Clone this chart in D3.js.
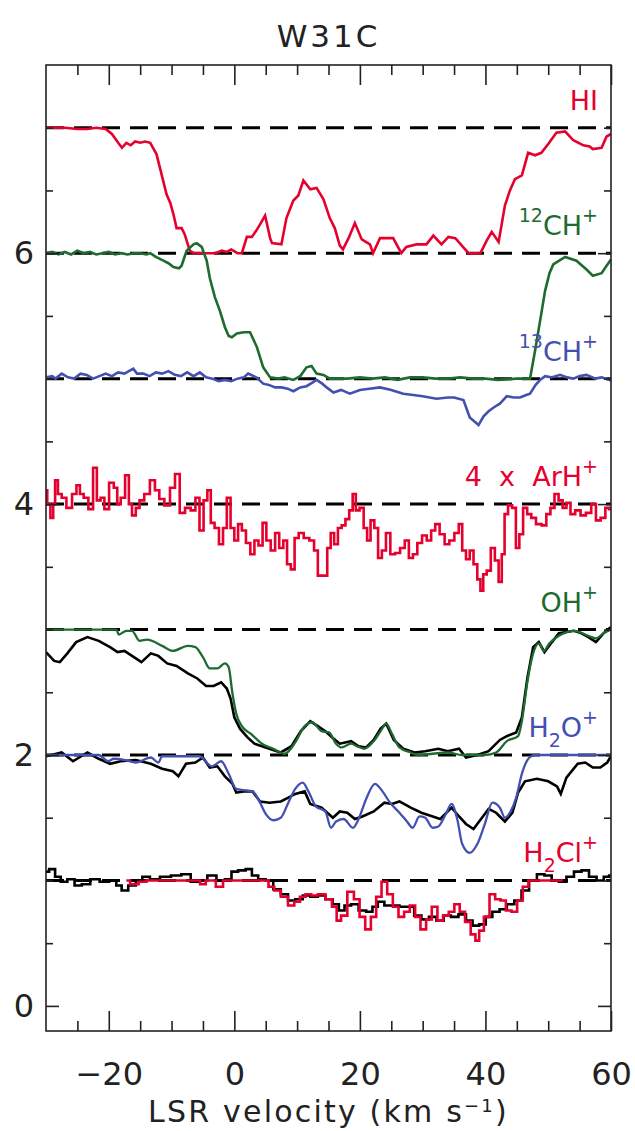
<!DOCTYPE html>
<html><head><meta charset="utf-8">
<script src="https://cdn.jsdelivr.net/npm/d3@7/dist/d3.min.js"></script>
<style>
body{margin:0;background:#fff;}
svg text{font-family:"DejaVu Sans",sans-serif;}
</style></head>
<body>
<svg id="chart" width="635" height="1131"></svg>
<script>
// ---------- data (velocity km/s, offset intensity) ----------
const title = "W31C";
const xMajorTicks = [-20, 0, 20, 40, 60];
const xMinorTicks = [-25, -15, -10, -5, 5, 10, 15, 25, 30, 35, 45, 50, 55];
const yMajorTicks = [0, 2, 4, 6];
const yMinorTicks = [0.5, 1, 1.5, 2.5, 3, 3.5, 4.5, 5, 5.5, 6.5, 7];
const baselines = [1, 2, 3, 4, 5, 6, 7];

const HI = [[-30,7.0],[-27,7.0],[-25,6.99],[-23.5,6.99],[-22,7.0],[-20.5,6.99],[-19.5,6.95],[-18.5,6.88],[-17.9,6.84],[-17.2,6.88],[-16.5,6.86],[-15.8,6.89],[-15,6.88],[-14.2,6.89],[-13.4,6.88],[-12.4,6.79],[-11.6,6.63],[-10.8,6.47],[-10.2,6.40],[-9.7,6.31],[-9.2,6.20],[-8.4,6.20],[-7.9,6.15],[-7.1,6.02],[-6.5,6.0],[-3,6.0],[-2,6.02],[-1.2,6.01],[-0.5,6.03],[0.5,6.0],[1.2,6.0],[2.0,6.13],[2.8,6.13],[3.5,6.18],[4.1,6.23],[4.9,6.30],[5.7,6.12],[6.0,6.08],[7.5,6.07],[8.3,6.28],[9.4,6.42],[10.2,6.46],[11.0,6.58],[12.1,6.51],[13.1,6.52],[14.2,6.43],[15.2,6.28],[16.0,6.20],[16.8,6.06],[17.3,6.03],[18.2,6.12],[19.2,6.24],[20.3,6.11],[21.6,6.07],[22.1,6.0],[23.2,6.12],[25.3,6.12],[26.6,6.0],[27.4,6.05],[29.0,6.07],[30.6,6.07],[31.7,6.14],[33.0,6.07],[34.1,6.13],[35.2,6.12],[37.3,6.0],[39.2,6.0],[40.2,6.10],[41.0,6.17],[42.1,6.09],[43.1,6.38],[43.9,6.50],[44.7,6.59],[45.8,6.62],[46.8,6.80],[47.9,6.78],[48.9,6.80],[50.0,6.87],[51.3,6.96],[52.7,6.97],[54.0,6.90],[55.6,6.86],[56.6,6.85],[57.1,6.83],[58.5,6.84],[59.3,6.93],[60,6.95]];

const CH12 = [[-30,6.0],[-29,6.01],[-28,5.99],[-27,6.01],[-26,5.99],[-25,6.02],[-24,6.0],[-23,6.01],[-22,5.99],[-21,6.0],[-20,6.01],[-19,5.99],[-18,6.0],[-17,5.99],[-16,6.0],[-15,6.0],[-14,5.99],[-13.4,6.0],[-12.5,5.97],[-11.3,5.94],[-10.5,5.92],[-9.7,5.89],[-8.8,5.88],[-8.4,5.90],[-7.6,6.02],[-6.5,6.07],[-6.0,6.08],[-5.2,6.05],[-4.4,5.94],[-3.9,5.80],[-3.1,5.65],[-2.3,5.54],[-1.5,5.41],[-0.9,5.34],[-0.4,5.33],[0.4,5.36],[1.5,5.37],[2.5,5.37],[3.6,5.25],[4.6,5.09],[5.7,5.01],[7,5.0],[8,5.01],[9.4,4.99],[10.5,5.02],[11.5,5.09],[12.3,5.10],[13.1,5.04],[14.2,5.03],[15.2,5.0],[18,5.0],[20,5.01],[22,5.0],[24,5.01],[26,4.99],[28,5.01],[30,5.01],[32,5.0],[34,5.0],[36,5.01],[38,5.0],[40,5.0],[42,4.99],[45,5.0],[47.1,5.0],[48.0,5.25],[48.7,5.46],[49.5,5.70],[50.2,5.84],[50.8,5.91],[52.7,5.97],[54.5,5.94],[56.1,5.87],[57.1,5.82],[58.5,5.84],[59.3,5.90],[60,5.95]];

const CH13 = [[-30,5.01],[-29,5.02],[-28.5,5.0],[-27.5,5.04],[-26.5,5.01],[-25.5,5.0],[-24.5,5.04],[-23.5,5.03],[-22.5,5.0],[-21.5,5.02],[-20.5,5.04],[-19.5,5.02],[-18.5,5.05],[-17.5,5.04],[-16.1,5.08],[-15.5,5.04],[-14.5,5.04],[-13.5,5.02],[-12.5,5.05],[-11.5,5.04],[-10.5,5.06],[-9.5,5.03],[-8.5,5.02],[-7.5,5.05],[-6.5,5.02],[-5.5,5.05],[-4.5,5.01],[-3.5,5.0],[-2.5,4.98],[-1.5,4.99],[-0.5,4.98],[0.5,5.0],[1.5,5.01],[2.2,5.04],[3.5,5.01],[4.6,4.96],[5.5,4.95],[6.5,4.93],[7.5,4.93],[8.5,4.92],[9.4,4.90],[10.5,4.93],[11.5,4.94],[12.5,4.97],[13.1,4.99],[14.0,4.96],[14.7,4.93],[15.8,4.89],[17,4.91],[18.4,4.88],[20,4.91],[21.5,4.92],[23.2,4.93],[25,4.91],[26.9,4.88],[28.5,4.87],[30,4.86],[32.2,4.84],[34,4.85],[35.0,4.85],[36.5,4.83],[37.5,4.69],[38.9,4.63],[39.7,4.70],[40.5,4.74],[41.3,4.77],[42.3,4.80],[43.4,4.86],[44.5,4.85],[45.5,4.85],[46.5,4.87],[47.1,4.88],[48.0,4.95],[48.7,4.99],[49.5,5.02],[50.5,5.01],[51.9,5.03],[53,5.01],[54.0,5.0],[55,5.02],[56.1,5.03],[57.5,5.0],[58.5,5.01],[59.8,4.99],[60,4.98]];

const ArH = [[-30,4.11],[-29.6,4.0],[-29.0,3.89],[-28.7,4.0],[-28.4,4.19],[-27.8,4.08],[-27.2,4.05],[-26.3,3.97],[-25.4,4.08],[-24.9,4.15],[-24.3,4.08],[-23.7,4.05],[-22.8,3.96],[-22.2,4.29],[-21.6,4.03],[-21.0,4.05],[-20.4,3.96],[-19.5,4.17],[-18.9,4.13],[-18.4,4.0],[-17.8,4.05],[-17.0,4.23],[-16.6,4.0],[-16.0,3.91],[-15.4,3.97],[-14.8,4.03],[-13.9,4.08],[-13.0,4.19],[-12.3,4.11],[-11.6,4.04],[-10.7,3.99],[-9.8,4.13],[-9.1,4.24],[-8.3,3.93],[-7.4,3.97],[-6.5,3.95],[-5.9,4.05],[-5.2,3.79],[-4.6,4.03],[-4.0,4.11],[-3.5,3.85],[-2.8,3.81],[-2.1,3.68],[-1.5,3.81],[-0.9,4.05],[-0.3,3.81],[0.3,3.71],[0.9,3.84],[1.5,3.79],[2.2,3.69],[2.9,3.60],[3.5,3.71],[4.2,3.67],[4.8,3.85],[5.4,3.71],[6.2,3.63],[6.8,3.77],[7.5,3.65],[8.1,3.71],[8.7,3.52],[9.3,3.48],[9.9,3.73],[10.6,3.77],[11.5,3.73],[12.4,3.71],[13.0,3.63],[13.6,3.43],[14.5,3.43],[15.1,3.65],[15.6,3.77],[16.2,3.68],[16.8,3.81],[17.4,3.83],[18.0,3.88],[18.6,3.95],[19.1,4.08],[19.6,3.95],[20.3,3.97],[20.9,3.81],[21.4,3.71],[22.0,3.87],[22.6,3.81],[23.2,3.57],[23.8,3.63],[24.5,3.77],[25.2,3.60],[26.0,3.61],[26.8,3.65],[27.5,3.71],[28.1,3.57],[28.8,3.60],[29.5,3.69],[30.3,3.75],[31.0,3.71],[31.7,3.79],[32.3,3.84],[33.1,3.76],[33.9,3.68],[34.6,3.71],[35.5,3.77],[36.0,3.84],[36.6,3.63],[37.2,3.56],[37.8,3.63],[38.4,3.52],[39.0,3.40],[39.4,3.31],[39.9,3.44],[40.5,3.47],[41.2,3.65],[41.8,3.55],[42.4,3.38],[42.8,3.60],[43.3,3.92],[43.9,3.99],[44.6,3.97],[45.1,3.65],[45.7,3.76],[46.3,3.97],[47.0,3.92],[47.6,3.89],[48.5,3.84],[49.4,3.83],[50.0,3.92],[50.7,3.97],[51.3,4.08],[52.0,4.03],[52.6,3.97],[53.2,4.01],[53.9,3.92],[54.7,3.95],[55.6,3.91],[56.4,3.93],[57.3,4.0],[57.9,3.87],[58.8,3.89],[59.4,3.97],[60,3.96]];

const OHobs = [[-30,2.82],[-28.7,2.75],[-27.8,2.74],[-26.6,2.81],[-25.2,2.90],[-23.4,2.94],[-21.6,2.91],[-19.8,2.86],[-18.6,2.82],[-17.5,2.83],[-16.3,2.79],[-14.8,2.74],[-13.3,2.81],[-12.1,2.79],[-10.7,2.73],[-9.2,2.71],[-7.4,2.65],[-5.9,2.61],[-4.5,2.55],[-3.3,2.55],[-2.1,2.58],[-1.2,2.53],[-0.6,2.45],[0.0,2.30],[0.9,2.21],[2.1,2.14],[3.2,2.09],[5.0,2.06],[7.4,2.02],[9.1,2.07],[10.6,2.19],[12.1,2.27],[13.3,2.23],[14.5,2.19],[15.6,2.14],[16.8,2.09],[18.6,2.11],[19.8,2.07],[21.0,2.06],[22.2,2.12],[23.3,2.21],[24.2,2.25],[25.4,2.12],[26.9,2.05],[28.7,2.02],[30.4,2.03],[32.5,2.05],[34.0,2.03],[35.8,2.05],[36.9,1.98],[38.7,2.0],[40.5,2.03],[42.3,2.12],[43.4,2.15],[44.9,2.18],[45.8,2.30],[46.7,2.62],[47.6,2.86],[48.5,2.90],[49.4,2.82],[50.6,2.90],[51.7,2.97],[52.9,2.98],[54.1,2.99],[55.3,2.97],[56.4,2.94],[57.6,2.90],[58.8,2.97],[60,3.02]];

const OHmodel = [[-30,3.0],[-18.8,3.0],[-18.4,2.96],[-17.2,2.99],[-16.3,2.99],[-15.1,2.91],[-13.9,2.92],[-11.5,2.87],[-9.8,2.83],[-7.4,2.87],[-6.2,2.86],[-5.0,2.78],[-3.9,2.69],[-2.7,2.69],[-1.5,2.73],[-0.9,2.70],[-0.3,2.49],[0.3,2.33],[1.2,2.23],[2.6,2.17],[4.4,2.09],[6.2,2.05],[8.0,2.01],[9.7,2.10],[11.2,2.23],[12.4,2.26],[13.9,2.19],[15.1,2.18],[16.2,2.09],[17.1,2.06],[18.6,2.09],[19.5,2.07],[20.7,2.05],[22.2,2.11],[23.3,2.19],[24.2,2.25],[25.1,2.17],[26.3,2.06],[28.1,2.02],[29.2,2.0],[31.6,2.01],[34.0,2.02],[36.3,2.0],[39.9,2.0],[41.7,2.02],[43.4,2.11],[45.2,2.15],[45.8,2.27],[46.7,2.59],[47.6,2.81],[48.5,2.89],[49.3,2.83],[50.2,2.89],[51.7,2.95],[54.1,2.99],[56.4,2.95],[57.6,2.93],[58.8,2.97],[60,3.0]];

const H2Oobs = [[-30,1.99],[-27.5,2.02],[-25.7,1.95],[-23.4,2.02],[-21.6,1.97],[-19.8,1.93],[-18.1,1.95],[-15.7,1.96],[-13.3,1.93],[-11.5,1.89],[-9.8,1.87],[-8.9,1.83],[-7.7,1.93],[-6.2,1.94],[-5.0,1.98],[-3.9,1.90],[-2.7,1.91],[-1.5,1.83],[-0.3,1.77],[0.3,1.70],[1.5,1.71],[2.9,1.71],[4.1,1.63],[5.6,1.62],[7.4,1.63],[8.6,1.66],[9.7,1.69],[11.2,1.71],[12.1,1.61],[13.9,1.58],[15.7,1.50],[16.8,1.55],[18.0,1.54],[19.2,1.49],[20.4,1.51],[22.2,1.55],[23.9,1.62],[25.1,1.61],[26.3,1.63],[28.1,1.58],[29.8,1.54],[31.6,1.51],[32.8,1.49],[34.6,1.58],[35.8,1.51],[36.9,1.45],[38.1,1.41],[39.3,1.49],[40.5,1.57],[41.7,1.54],[43.1,1.47],[44.3,1.54],[45.2,1.70],[46.3,1.79],[48.2,1.81],[50.0,1.79],[51.4,1.75],[52.0,1.69],[52.9,1.82],[54.7,1.93],[55.9,1.94],[57.1,1.90],[58.3,1.90],[59.4,1.94],[60,1.99]];

const H2Omodel = [[-30,2.0],[-21.6,2.0],[-20.1,1.95],[-19.2,1.97],[-17.4,1.96],[-15.7,1.94],[-13.3,1.98],[-12.1,1.94],[-11.5,1.99],[-5.6,1.99],[-3.6,1.91],[-2.1,1.95],[-0.9,1.85],[0.3,1.73],[1.5,1.72],[2.9,1.71],[4.1,1.62],[5.0,1.53],[6.2,1.48],[7.4,1.50],[8.6,1.62],[9.7,1.73],[10.9,1.78],[11.8,1.71],[13.0,1.59],[14.5,1.55],[15.4,1.42],[16.2,1.47],[17.4,1.49],[18.9,1.42],[19.8,1.49],[21.0,1.65],[22.4,1.77],[23.6,1.71],[24.8,1.62],[26.3,1.54],[27.5,1.47],[28.4,1.42],[29.5,1.51],[30.4,1.50],[31.6,1.42],[32.5,1.43],[33.7,1.53],[34.6,1.61],[35.5,1.49],[36.3,1.29],[37.5,1.22],[38.7,1.29],[39.9,1.45],[41.1,1.62],[42.3,1.58],[43.1,1.50],[44.0,1.55],[44.9,1.66],[45.8,1.85],[47.0,1.98],[47.9,2.0],[60,2.0]];

const H2Clobs = [[-30,1.07],[-29.0,1.09],[-28.1,1.03],[-27.2,0.99],[-26.0,1.01],[-24.9,0.96],[-23.7,0.97],[-22.2,1.01],[-20.7,0.99],[-19.2,1.0],[-18.4,0.96],[-17.5,0.92],[-16.3,0.96],[-15.1,1.0],[-14.2,1.03],[-12.7,1.01],[-11.0,1.03],[-9.2,1.04],[-7.7,1.05],[-6.2,0.99],[-5.0,1.0],[-3.6,1.04],[-2.1,1.0],[-0.9,1.01],[0.0,1.07],[1.2,1.08],[2.4,1.09],[3.2,1.04],[4.4,1.01],[5.6,1.0],[6.8,0.93],[8.0,0.89],[9.1,0.84],[10.3,0.85],[11.5,0.88],[12.7,0.87],[13.9,0.88],[15.1,0.85],[16.2,0.81],[17.1,0.76],[18.0,0.80],[19.2,0.81],[20.4,0.76],[21.6,0.75],[22.4,0.79],[23.3,0.83],[24.5,0.80],[25.7,0.80],[26.9,0.79],[28.1,0.79],[29.2,0.72],[30.4,0.69],[31.6,0.71],[32.8,0.68],[33.9,0.72],[35.1,0.71],[36.3,0.73],[37.5,0.68],[38.4,0.64],[39.6,0.65],[40.5,0.71],[41.7,0.75],[42.8,0.77],[44.0,0.81],[45.2,0.84],[46.3,0.92],[47.6,1.0],[48.8,1.05],[50.0,1.04],[51.1,1.0],[52.3,0.99],[53.5,1.03],[54.7,1.07],[55.9,1.08],[57.1,1.03],[58.3,1.0],[59.4,1.03],[60,1.04]];

const H2Clalt = [[-17.2,1.0],[-16.0,0.97],[-14.5,0.99],[-13.5,1.0],[-5.6,1.0],[-5.3,0.97],[-3.8,1.0],[-2.1,0.95],[-1.5,1.0],[5.0,1.0],[5.9,0.95],[6.8,0.92],[8.0,0.87],[9.1,0.80],[10.0,0.83],[10.9,0.87],[11.8,0.89],[12.7,0.88],[13.9,0.89],[15.1,0.85],[16.0,0.79],[16.6,0.68],[17.4,0.72],[18.6,0.91],[19.5,0.85],[20.4,0.71],[21.3,0.61],[22.2,0.71],[23.0,0.87],[23.9,0.99],[24.8,0.89],[25.7,0.79],[26.6,0.71],[27.5,0.75],[28.4,0.80],[29.2,0.71],[30.1,0.61],[31.0,0.69],[31.9,0.79],[32.8,0.68],[33.7,0.72],[34.6,0.75],[35.5,0.81],[36.3,0.75],[37.2,0.67],[38.1,0.57],[38.7,0.52],[39.3,0.60],[40.2,0.71],[41.1,0.89],[42.0,0.85],[42.8,0.84],[43.7,0.76],[44.6,0.75],[45.5,0.84],[46.4,0.95],[47.3,1.0],[52.3,1.0]];

// ---------- layout ----------
const RED = "#e6002d", GREEN = "#1e6b30", BLUE = "#4350b0", INK = "#222";
const svg = d3.select("#chart");
const x = d3.scaleLinear().domain([-30, 60]).range([46, 611]);
const y = d3.scaleLinear().domain([-0.2, 7.5]).range([1031, 65]);

svg.append("defs").append("clipPath").attr("id","clip")
  .append("rect").attr("x",x(-30)).attr("y",y(7.5)).attr("width",x(60)-x(-30)).attr("height",y(-0.2)-y(7.5));

// dashed baselines
svg.append("g").selectAll("line").data(baselines).join("line")
  .attr("x1", x(-30)).attr("x2", x(60))
  .attr("y1", d => y(d)).attr("y2", d => y(d))
  .attr("stroke", "#000").attr("stroke-width", 3).attr("stroke-dasharray", "18,10");

const plot = svg.append("g").attr("clip-path","url(#clip)");
function draw(data, color, curve, width) {
  plot.append("path").datum(data)
    .attr("fill","none").attr("stroke",color).attr("stroke-width",width)
    .attr("stroke-linejoin","miter")
    .attr("d", d3.line().x(d => x(d[0])).y(d => y(d[1])).curve(curve));
}
draw(HI, RED, d3.curveLinear, 2.6);
draw(CH12, GREEN, d3.curveLinear, 2.6);
draw(CH13, BLUE, d3.curveLinear, 2.6);
draw(ArH, RED, d3.curveStep, 2.6);
draw(OHobs, "#000", d3.curveLinear, 2.6);
draw(OHmodel, GREEN, d3.curveMonotoneX, 2.3);
draw(H2Oobs, "#000", d3.curveLinear, 2.6);
draw(H2Omodel, BLUE, d3.curveMonotoneX, 2.3);
draw(H2Clobs, "#000", d3.curveStep, 2.6);
draw(H2Clalt, RED, d3.curveStep, 2.6);

// axes
function styleAxis(g){
  g.select(".domain").remove();
  g.selectAll(".tick line").attr("stroke", INK).attr("stroke-width", 1.6);
  g.selectAll("text").attr("fill", INK).attr("font-family","DejaVu Sans").attr("font-size", 32);
}
svg.append("g").attr("transform",`translate(0,${y(-0.2)})`)
  .call(d3.axisBottom(x).tickValues(xMajorTicks).tickSize(-20).tickPadding(31).tickFormat(d => d < 0 ? "\u2212" + Math.abs(d) : d))
  .call(styleAxis);
svg.append("g").attr("transform",`translate(0,${y(-0.2)})`)
  .call(d3.axisBottom(x).tickValues(xMinorTicks).tickSize(-10).tickFormat(""))
  .call(styleAxis);
svg.append("g").attr("transform",`translate(0,${y(7.5)})`)
  .call(d3.axisTop(x).tickValues(xMajorTicks).tickSize(-20).tickFormat(""))
  .call(styleAxis);
svg.append("g").attr("transform",`translate(0,${y(7.5)})`)
  .call(d3.axisTop(x).tickValues(xMinorTicks).tickSize(-10).tickFormat(""))
  .call(styleAxis);
svg.append("g").attr("transform",`translate(${x(-30)},0)`)
  .call(d3.axisLeft(y).tickValues(yMajorTicks).tickSize(-13).tickPadding(12).tickFormat(d3.format("d")))
  .call(styleAxis);
svg.append("g").attr("transform",`translate(${x(-30)},0)`)
  .call(d3.axisLeft(y).tickValues(yMinorTicks).tickSize(-7).tickFormat(""))
  .call(styleAxis);
svg.append("g").attr("transform",`translate(${x(60)},0)`)
  .call(d3.axisRight(y).tickValues(yMajorTicks).tickSize(-13).tickFormat(""))
  .call(styleAxis);
svg.append("g").attr("transform",`translate(${x(60)},0)`)
  .call(d3.axisRight(y).tickValues(yMinorTicks).tickSize(-7).tickFormat(""))
  .call(styleAxis);

// frame
svg.append("rect").attr("x",x(-30)).attr("y",y(7.5)).attr("width",x(60)-x(-30)).attr("height",y(-0.2)-y(7.5))
  .attr("fill","none").attr("stroke",INK).attr("stroke-width",1.6);

// title
svg.append("text").attr("x",(x(-30)+x(60))/2).attr("y",47).attr("text-anchor","middle")
  .attr("font-size",31).attr("letter-spacing",3).attr("fill",INK).text(title);

// x label
const xl = svg.append("text").attr("x",(x(-30)+x(60))/2).attr("y",1122).attr("text-anchor","middle")
  .attr("font-size",30).attr("letter-spacing",2.2).attr("fill",INK);
xl.append("tspan").text("LSR velocity (km s");
xl.append("tspan").attr("font-size",18).attr("dy",-10).text("\u22121");
xl.append("tspan").attr("dy",10).text(")");

// species labels
const lx = 598, sub = 19;
function label(level, color, parts){
  const t = svg.append("text").attr("x",lx).attr("y",y(level)-18).attr("text-anchor","end")
    .attr("font-size",27).attr("fill",color).attr("xml:space","preserve");
  let shift = 0;
  parts.forEach(([s, kind]) => {
    const target = kind === "sup" ? -13 : kind === "sub" ? 10 : 0;
    const ts = t.append("tspan").attr("dy", target - shift).text(s);
    if (kind) ts.attr("font-size", sub);
    shift = target;
  });
}
label(7, RED, [["HI"]]);
label(6, GREEN, [["12","sup"],["CH"],["+","sup"]]);
label(5, BLUE, [["13","sup"],["CH"],["+","sup"]]);
label(4, RED, [["4  x  ArH"],["+","sup"]]);
label(3, GREEN, [["OH"],["+","sup"]]);
label(2, BLUE, [["H"],["2","sub"],["O"],["+","sup"]]);
label(1, RED, [["H"],["2","sub"],["Cl"],["+","sup"]]);
</script>
</body></html>
